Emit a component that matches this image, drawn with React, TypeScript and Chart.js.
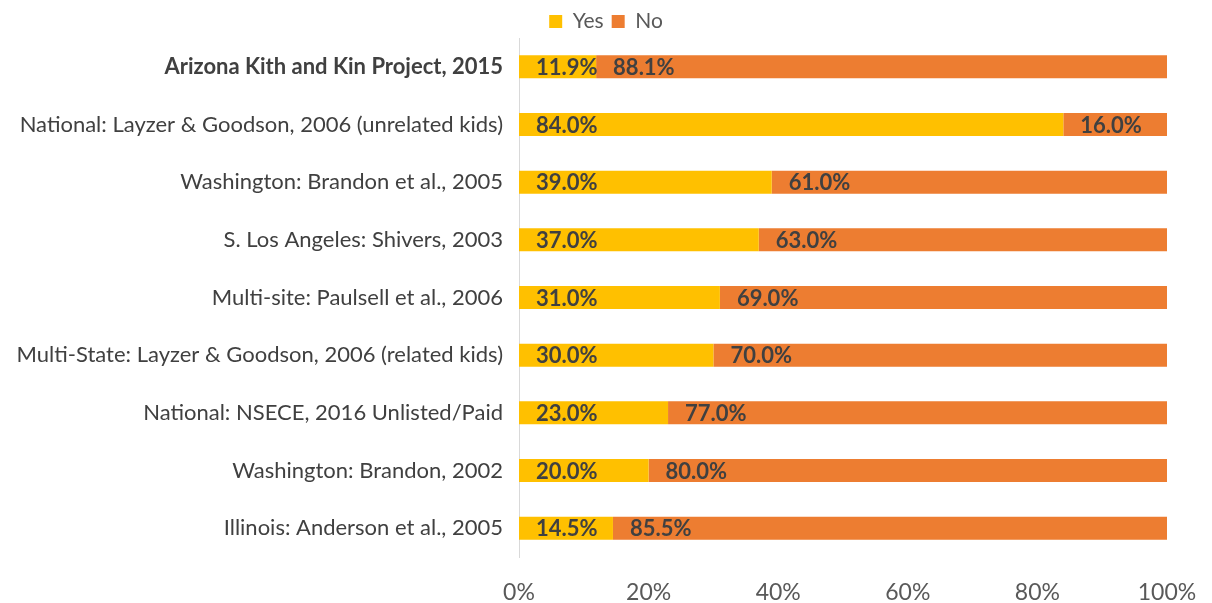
import React, { useEffect, useRef } from "react";
import { Chart, registerables } from "chart.js";

Chart.register(...registerables);

const categories = [
  "Arizona Kith and Kin Project, 2015",
  "National: Layzer & Goodson, 2006 (unrelated kids)",
  "Washington: Brandon et al., 2005",
  "S. Los Angeles: Shivers, 2003",
  "Multi-site: Paulsell et al., 2006",
  "Multi-State: Layzer & Goodson, 2006 (related kids)",
  "National: NSECE, 2016 Unlisted/Paid",
  "Washington: Brandon, 2002",
  "Illinois: Anderson et al., 2005",
];
const yesValues = [11.9, 84.0, 39.0, 37.0, 31.0, 30.0, 23.0, 20.0, 14.5];
const noValues = [88.1, 16.0, 61.0, 63.0, 69.0, 70.0, 77.0, 80.0, 85.5];

const FONT = "Lato, 'Open Sans', sans-serif";

const dataLabelPlugin = {
  id: "segLabels",
  afterDatasetsDraw(chart: any) {
    const ctx = chart.ctx;
    ctx.save();
    ctx.font = `bold 22px ${FONT}`;
    ctx.fillStyle = "#404040";
    ctx.textAlign = "left";
    ctx.textBaseline = "middle";
    chart.data.datasets.forEach((ds: any, di: number) => {
      const meta = chart.getDatasetMeta(di);
      meta.data.forEach((el: any, i: number) => {
        const v = ds.data[i];
        const left = Math.min(el.base, el.x);
        ctx.fillText(v.toFixed(1) + "%", left + 17, el.y + 1);
      });
    });
    ctx.restore();
  },
};

export default function App() {
  const ref = useRef<HTMLCanvasElement>(null);
  useEffect(() => {
    if (!ref.current) return;
    const chart = new Chart(ref.current, {
      type: "bar",
      data: {
        labels: categories,
        datasets: [
          {
            label: "Yes",
            data: yesValues,
            backgroundColor: "#FFC000",
            categoryPercentage: 1,
            barPercentage: 0.4,
          },
          {
            label: "No",
            data: noValues,
            backgroundColor: "#ED7D31",
            categoryPercentage: 1,
            barPercentage: 0.4,
          },
        ],
      },
      options: {
        indexAxis: "y",
        animation: false,
        responsive: true,
        maintainAspectRatio: false,
        layout: { padding: { left: 0, right: 0, top: 3, bottom: 0 } },
        plugins: {
          legend: {
            position: "top",
            maxHeight: 35,
            labels: {
              boxWidth: 13,
              boxHeight: 13,
              padding: 8,
              color: "#595959",
              font: { family: FONT, size: 21 },
            },
          },
          tooltip: { enabled: false },
        },
        scales: {
          x: {
            stacked: true,
            min: 0,
            max: 100,
            grid: { display: false },
            border: { display: false },
            ticks: {
              stepSize: 20,
              padding: 14,
              color: "#595959",
              font: { family: FONT, size: 23 },
              callback: (v: any) => v + "%",
            },
            afterFit: (s: any) => {
              s.height = 46;
            },
          },
          y: {
            stacked: true,
            grid: { display: false },
            border: { display: true, color: "#D9D9D9", width: 1 },
            ticks: {
              padding: 8,
              color: "#404040",
              font: (c: any) => ({
                family: FONT,
                size: 22,
                weight: c.index === 0 ? "bold" : "normal",
              }),
            },
            afterFit: (s: any) => {
              s.width = 519;
            },
          },
          yRight: {
            type: "category",
            position: "right",
            labels: categories,
            grid: { display: false },
            border: { display: false },
            ticks: { display: false },
            afterFit: (s: any) => {
              s.width = 45;
            },
          },
        },
      },
      plugins: [dataLabelPlugin],
    });
    return () => chart.destroy();
  }, []);
  return (
    <div style={{ position: "fixed", left: 0, top: 0, width: 1212, height: 603, background: "#fff" }}>
      <canvas ref={ref} />
    </div>
  );
}
